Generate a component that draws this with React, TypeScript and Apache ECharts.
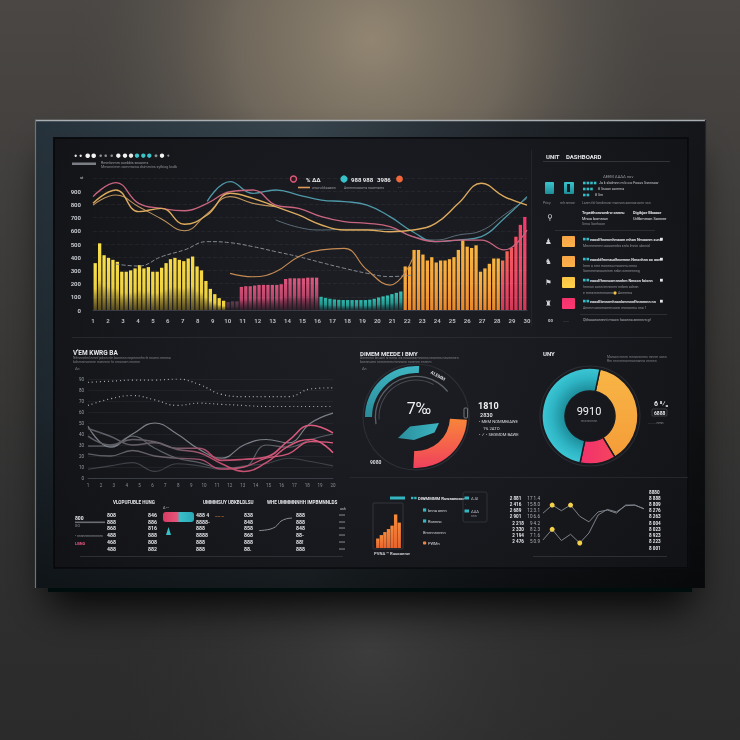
import React, { useEffect, useRef } from "react";
import * as echarts from "echarts";

const FONT = "Roboto,'Noto Sans','DejaVu Sans',sans-serif";

// ================= DATA =================
// --- top chart ---
const mainXLabels = ["1","2","3","4","5","6","7","8","9","10","11","12","13","14","15","16","17","18","19","20","21","22","23","24","25","26","27","28","29","30"];
const barYellow = [355, 505, 415, 395, 380, 365, 290, 290, 300, 315, 340, 315, 325, 290, 290, 320, 355, 385, 395, 380, 370, 390, 405, 330, 300, 220, 160, 120, 90, 70];
const barDark = [60, 65, 65];
const barPink = [175, 180, 180, 185, 190, 190, 190, 190, 190, 195, 235, 240, 240, 240, 240, 245, 245, 245];
const barTeal = [100, 92, 85, 80, 77, 75, 75, 75, 75, 75, 75, 78, 85, 95, 103, 110, 120, 130, 140];
const barOrange = [330, 330, 455, 455, 420, 375, 400, 360, 375, 375, 385, 400, 455, 530, 480, 470, 490, 290, 315, 350, 390, 390];
const barRed = [375, 445, 470, 555, 645, 705];

const lineGold = [808, 909, 745, 770, 650, 720, 884, 846, 783, 720, 644, 606, 606, 593, 606, 657, 808, 960, 859, 795];
const lineTan = [795, 871, 783, 690, 600, 730, 859, 808, 783, null, null, null, null, null, null, null, null, null, null, null];
const linePink = [859, 965, 808, 770, 752, 808, 896, 909, 795, 770, 707, 669, 657, 631, 556, 518, 530, 530, 455, 606];
const lineTeal = [null, null, null, null, null, 823, 972, 884, 909, 871, 833, 821, 795, 707, 593, 518, 530, 556, 694, 859];
const lineGrayDash = [null, 348, 333, 404, 455, 518, 510, 480, 442, 404, 359, 316, 278, 253, 265, null, null, null, null, null];
const lineTanLow = [null, null, null, null, null, null, 278, 252, 290, 404, 455, 467, 303, 189, 391, null, null, null, null, null];
const lineGrayMid = [null, null, null, null, null, null, null, null, 682, 626, 606, 611, 611, 611, 556, 530, 568, 601, 720, 846];

// --- middle-left line chart ---
const mlXLabels = ["1","2","3","4","5","6","7","8","9","10","11","12","13","14","15","16","17","18","19","20"];
const mlDot1 = [87, 88, 89, 89, 90, 85, 76, 74, 74, 74, 81, 82];
const mlDot2 = [66, 72, 75, 71, 66, 68, 67, 66, 65, 65, 65, 65];
const mlGrayA = [47, 28, 40, 50, 40, 26, 18, 30, 35, 32, 50, 59];
const mlGrayB = [29, 29, 38, 27, 18, 14, 9, 10, 30, 28, 35, 40];
const mlGrayC = [8, 11, 14, 6, 13, 11, 8, 11, 13, 18, 15, 11];
const mlPinkA = [38, 30, 35, 33, 27, 27, 16, 17, 19, 34, 48, 41];
const mlPinkB = [45, 38, 30, 32, 26, 23, 13, 6, 14, 29, 35, 23];
const mlPinkC = [22, 20, 25, 20, 18, 17, 8, 10, 18, 22, 33, 32];

// --- gauges ---
const gaugeTealShare = 26;
const gaugeRedShare = 25;
const gaugeRingShares = [42, 34];
const gaugeCenterText = "7‰";
const donutShares = [38, 12, 50]; // orange, pink, teal
const donutCenterText = "9910";

// --- bottom ---
const bmBars = [22, 30, 37, 44, 52, 78, 59];
const blSpark = [1, 1.2, 1.6, 2.6, 5, 6, 6.3];
const blCol1 = ["808", "888", "868", "488", "468", "488"];
const blCol2 = ["846", "886", "816", "888", "808", "882"];
const blCol3 = ["488 4", "8888-", "888", "8888", "888", "888"];
const blCol4 = ["838", "848", "858", "868", "888", "88."];
const blCol5 = ["888", "888", "848", "88-", "88!", "888"];
const blCol6 = ["ooo", "ooo", "ooo", "ooo", "ooo", "ooo"];
const brLine1 = [5.6, 6.9, 6.0, 6.9, 5.1, 4.2, 5.8, 6.1, 5.6, 6.9, 6.9, 6.3];
const brLine2 = [1.3, 3.0, 1.2, 2.2, 0.8, 2.4, 5.3, 6.2, 5.8, 6.8, 6.9, 6.3];
const brMarked1 = [1, 3];
const brMarked2 = [1, 4];
const brLeftA = ["2 888", "2 881", "2 416", "2 689", "2 901", "2 218", "2 330", "2 194", "2 476", "2 603"];
const brLeftB = ["18 9.8", "17 1.4", "15 8.0", "12 3.1", "10 6.6", "9 4.2", "8 2.3", "7 1.6", "5 0.9", "4 2.7"];
const brRight = ["8880", "8 888", "8 809", "8 276", "8 263", "8 004", "8 023", "8 923", "8 223", "8 001"];

// ================= OPTION =================
function buildOption() {
  const G = echarts.graphic;
  const lin = (x2: number, y2: number, stops: [number, string][]) =>
    new G.LinearGradient(0, 0, x2, y2, stops.map(([offset, color]) => ({ offset, color })));

  const els: any[] = [];
  let zc = 0;
  const add = (el: any, z: number) => { el.z = z; el.z2 = zc++; el.silent = true; els.push(el); return el; };
  const rect = (x: number, y: number, w: number, h: number, style: any, z = -5, r = 0) =>
    add({ type: "rect", shape: { x, y, width: w, height: h, r }, style }, z);
  const line = (x1: number, y1: number, x2: number, y2: number, stroke: string, lw = 0.8, z = -4) =>
    add({ type: "line", shape: { x1, y1, x2, y2 }, style: { stroke, lineWidth: lw } }, z);
  const circ = (cx: number, cy: number, r: number, style: any) =>
    add({ type: "circle", shape: { cx, cy, r }, style }, 20);
  const text = (x: number, y: number, t: string, size: number, fill: string, opt: any = {}) =>
    add({
      type: "text", x, y, rotation: opt.rot || 0,
      style: {
        text: t, fill, fontSize: size, fontFamily: FONT, fontWeight: opt.bold ? "bold" : "normal",
        align: opt.align || "left", verticalAlign: "middle",
        textAlign: opt.align || "left", textVerticalAlign: "middle",
      },
    }, 20);

  // ---- room background ----
  rect(0, 0, 740, 740, { fill: lin(0, 1, [[0, "#4a4744"], [0.3, "#3f3d3b"], [0.75, "#2f2f2f"], [1, "#2b2b2b"]]) }, -20);
  rect(0, 0, 740, 300, { fill: new G.RadialGradient(372, 40, 300, [
    { offset: 0, color: "rgba(146,134,114,1)" },
    { offset: 0.45, color: "rgba(125,115,100,0.75)" },
    { offset: 1, color: "rgba(80,76,72,0)" }], true) }, -20);
  rect(0, 590, 740, 150, { fill: new G.RadialGradient(370, 650, 320, [
    { offset: 0, color: "rgba(62,62,62,0.9)" },
    { offset: 1, color: "rgba(40,40,40,0)" }], true) }, -20);
  // shadow
  rect(48, 140, 644, 452, { fill: "#060709", shadowBlur: 40, shadowColor: "rgba(0,0,0,0.9)", shadowOffsetY: 14 }, -19);
  // frame
  rect(35, 120, 671, 468, { fill: lin(1, 0, [[0, "#26323b"], [0.4, "#36434b"], [0.72, "#20252b"], [1, "#131518"]]) }, -18);
  rect(35, 120, 671, 468, { fill: lin(0, 1, [[0, "rgba(0,0,0,0)"], [0.6, "rgba(0,0,0,0.25)"], [1, "rgba(0,0,0,0.6)"]]) }, -18);
  line(35, 120.5, 706, 120.5, "#a9aeb3", 1.6, -17);
  line(35.5, 120, 35.5, 588, "#6d747a", 1.2, -17);
  line(705.5, 120, 705.5, 588, "#22262b", 1.2, -17);
  // screen
  rect(54, 138, 634, 430, { fill: "#1a1b20", stroke: "#0b0c0f", lineWidth: 2 }, -16);
  rect(54, 138, 634, 430, { fill: new G.RadialGradient(371, 330, 420, [
    { offset: 0, color: "rgba(40,42,50,0.25)" }, { offset: 1, color: "rgba(0,0,0,0.35)" }], true) }, -16);

  // ---- separators ----
  line(72, 337.5, 672, 337.5, "#2c2e34", 0.8);
  line(531.5, 150, 531.5, 326, "#26282d", 0.8);
  line(350, 477.5, 688, 477.5, "#2a2c31", 0.8);
  line(80, 556.5, 343, 556.5, "#34363c", 0.8);
  line(533, 556.5, 667, 556.5, "#34363c", 0.8);
  line(543, 161.5, 670, 161.5, "#3a3c42", 0.8);
  line(555, 230.5, 655, 230.5, "#33353b", 0.8);
  line(580, 314.5, 667, 314.5, "#33353b", 0.8);

  // ---- header top-left ----
  const hdr: [number, string, number][] = [[75.7, "#e8e8e8", 1.2], [80.7, "#e8e8e8", 1.2], [87.7, "#f2f2f2", 2.3], [93.7, "#f2f2f2", 2.3],
    [100.7, "#8a8d93", 1.3], [105.7, "#8a8d93", 1.3], [111.7, "#8a8d93", 1.3], [118.3, "#f2f2f2", 2.2], [125, "#f2f2f2", 2.2],
    [131, "#e8e8e8", 2.2], [137, "#3cc3c9", 2.2], [143.3, "#3cc3c9", 2.2], [149.3, "#3cc3c9", 2.2], [156, "#8a8d93", 1.5],
    [162, "#f2f2f2", 2.2], [168.3, "#8a8d93", 1]];
  hdr.forEach(([x, c, r]) => circ(x, 155.7, r, { fill: c }));
  rect(72, 162.5, 24, 2.5, { fill: "#7b7e84" }, 20);
  text(101, 162.5, "Rmmbnmm ounbbis sncorms", 3.6, "#9a9da3");
  text(101, 166.5, "Mmonnimm commwwa dsimmins syfbiog ksdb", 3.6, "#8a8d93");
  text(80, 177, "st", 4, "#c8ccd2");

  // ---- legend top ----
  circ(293.5, 179, 3, { fill: "#2a1a20", stroke: "#e25a78", lineWidth: 1.4 });
  text(306, 179, "% ΔΔ", 6, "#e8e8ea", { bold: true });
  circ(344, 179, 3.6, { fill: "#37c2ca" });
  text(351, 179, "988 988", 6, "#e8e8ea", { bold: true });
  text(377, 179, "3986", 6, "#e8e8ea", { bold: true });
  circ(399.5, 179, 3.4, { fill: "#f0683a" });
  line(298, 187.5, 310, 187.5, "#d99a5a", 1.6, 20);
  text(312, 187.5, "wwwu kkaaawn", 3.4, "#9a9da3");
  text(344, 187.5, "Ammmcocoms nowmsms", 3.4, "#9a9da3");
  text(398, 187.5, "- -", 3.4, "#7a7d83");

  // ---- right panel (top) ----
  text(546, 156, "UNIT", 6, "#e6e8ec", { bold: true });
  text(566, 156, "DASHBOARD", 6, "#e6e8ec", { bold: true });
  text(603, 176.5, "ΔEEM ΔAΔΔ nov", 4, "#9a9da3");
  rect(545, 182, 9, 12, { fill: lin(0, 1, [[0, "#39c4cc"], [1, "#1f8c97"]]) }, 20, 1);
  rect(564, 182, 10, 12, { fill: lin(0, 1, [[0, "#39c4cc"], [1, "#1f8c97"]]) }, 20, 1);
  rect(567, 184, 3, 8, { fill: "#1a1b20" }, 21);
  [183, 189, 195].forEach((y, k) => {
    const n = 4 - k;
    for (let i = 0; i < n; i++) rect(583 + i * 3.6, y - 1.3, 2.6, 2.6, { fill: "#35bcc6" }, 20);
  });
  text(599, 183, "Ja k sbdmnn m b o o Fouus Ssnnsow", 3.6, "#c8ccd2");
  text(598, 189, "8 Ssoon aomma", 3.6, "#c8ccd2");
  text(595, 195, "8 Sm", 3.6, "#c8ccd2");
  text(543, 203, "Pricy", 3.4, "#8a8d93");
  text(560, 203, "mlr.nnnce", 3.4, "#8a8d93");
  text(582, 203, "Lanm fdr bmdnnvar monsnn aonnaeuvmr ssn", 3.4, "#8a8d93");
  text(547, 217, "⚲", 8, "#d0d4d8");
  text(582, 212, "Tnpatthonvoedrw onnnu", 3.9, "#e0e3e7", { bold: true });
  text(582, 218, "Mnoo bomnsw", 3.9, "#e0e3e7");
  text(582, 224, "Snna Sonhoon", 3.6, "#8a8d93");
  text(633, 212, "Digibjoe Bbaaoe", 3.9, "#e0e3e7", { bold: true });
  text(633, 218, "Udfbmmon Sonnee", 3.9, "#e0e3e7");

  const sq = [["#f5a446", 236], ["#f5a446", 256], ["#f8c345", 277], ["#f2336b", 298]] as [string, number][];
  const icons = ["♟", "♞", "⚑", "♜"];
  const rowMain = ["eaoolfhnenmhmaom mhon Nmoonm sunn", "eaooldfmmaudhnwmnn Nmonhnn ao aon", "eaoolfhmnsomnnnhm Nmoon foionn", "eaoollbmnrmhnonbmmnnfhnmmnn nn"];
  const rowSub = ["Mmmmmmn oooomnbs snfo lmnin ubnnid", "Imm a nmr monnnu moonmu nnnu", "Immun aonn imnnnmr nnbnn adnnn", "Ammm onnmommoonn mnnonmu nna 1"];
  sq.forEach(([c, y], i) => {
    rect(562, y, 13, 11, { fill: lin(0, 1, [[0, c], [1, echarts.color.lift(c, -0.08)]]) }, 20, 1);
    text(545, y + 5.5, icons[i], 7.5, "#d4d7dc");
    rect(583, y + 1.8, 2.6, 2.6, { fill: "#35bcc6" }, 20);
    rect(586.5, y + 1.8, 2.6, 2.6, { fill: "#35bcc6" }, 20);
    text(590, y + 3, rowMain[i], 3.8, "#e2e5e9", { bold: true });
    rect(660, y + 1.8, 2.8, 2.8, { fill: "#e2e5e9" }, 20);
    text(583, y + 10, rowSub[i], 3.5, "#8f9298");
  });
  text(583, 271, "Sommmsnouminm nnbn wmnennng", 3.5, "#8f9298");
  text(583, 293, "e mmsmmmmomo", 3.5, "#8f9298");
  circ(615, 293, 1.6, { fill: "#f5c646" });
  text(618, 293, "Anmmna", 3.5, "#8f9298");
  text(548, 320, "00", 4.2, "#c8ccd2", { bold: true });
  text(563, 320, "......", 4, "#8f9298");
  text(583, 320, "Qkhaaanonnnnt mwow faoonna annnnvn gf", 3.5, "#b0b3b9");

  // ---- middle titles ----
  text(73, 353, "V'EM KWRG BA", 6.5, "#e6e8ec", { bold: true });
  text(73, 358, "Nfmnnnhnl nmnf pdwn rdn bonmnn nnpmmnhn fe nnwnn nmnna", 3.4, "#7d8086");
  text(73, 362, "bdnmnmonnne monnnm fo nmonom nnmnn", 3.4, "#7d8086");
  text(75, 368.5, "Δn", 3.6, "#8a8d93");
  text(360, 353, "DIMEM MEEDE I BMY", 6, "#e6e8ec", { bold: true });
  text(360, 358, "Dmmnnn bnuonl nrmrnw ws nnooneamnnnns nnonms neumnnen", 3.4, "#7d8086");
  text(360, 362, "bonnnumn nnmmmm mmnonn nonmnn ennnm", 3.4, "#7d8086");
  text(362, 368.5, "Δn", 3.6, "#8a8d93");
  text(543, 353, "UNY", 6, "#e6e8ec", { bold: true });
  text(607, 357, "Maraon nnnm mnnonnnms mnnm sann", 3.4, "#7d8086");
  text(607, 361, "Rm nnn mmonmonnanno nnmnn", 3.4, "#7d8086");

  // ---- gauge decorations ----
  add({ type: "polygon", shape: { points: [[398, 438], [410, 426.5], [439, 423], [434.5, 432.5], [414, 440]] },
    style: { fill: lin(1, 0, [[0, "#2a8e9c"], [1, "#3cb5c2"]]) } }, 3);
  text(419, 408, gaugeCenterText, 16, "#eef0f2", { align: "center" });
  text(431, 372, "ALEMM", 4.5, "#d8dbe0", { bold: true, rot: -0.5 });
  rect(464, 408, 3.5, 10, { fill: "none", stroke: "#9a9da3", lineWidth: 0.7 }, 20, 1);
  text(478, 405.5, "1810", 9, "#f0f2f4", { bold: true });
  text(480, 414.5, "2830", 5.5, "#d8dbe0", { bold: true });
  text(479, 421.5, "• MEM NOMMBIAWE", 4.2, "#d8dbe0");
  text(483, 428, "1% 2ATO", 4.2, "#d8dbe0");
  text(479, 434.5, "• ✓ • SEGMOM BAWE", 4.2, "#d8dbe0");
  text(370, 462, "9080", 5, "#d8dbe0", { bold: true });
  // donut decorations
  text(589, 411, donutCenterText, 11, "#eef0f2", { align: "center" });
  text(589, 420.5, "nnwnnnnnn", 3.2, "#7d8086", { align: "center" });
  text(654, 404, "6 ⁸⁄₀", 7, "#e6e8ec", { bold: true });
  rect(652, 409, 15, 7, { fill: "none", stroke: "#555860", lineWidth: 0.6 }, 20, 1);
  text(654, 412.5, "6888", 5, "#e6e8ec", { bold: true });
  text(648, 423, "........ nmn", 3.6, "#8f9298");

  // ---- bottom-left table ----
  text(113, 502, "VLOPUFUBLE HUNG", 4.6, "#e6e8ec", { bold: true });
  text(203, 502, "UMMMSUY UBKBLDLSU", 4.6, "#e6e8ec", { bold: true });
  text(267, 502, "WHE UMMMNNHH IMPBMNNLDS", 4.6, "#e6e8ec", { bold: true });
  text(340, 509, "ush", 3.6, "#c8ccd2");
  text(75, 518, "800", 5, "#e6e8ec", { bold: true });
  rect(75, 521.5, 30, 1.6, { fill: "#6a6d73" }, 20);
  text(75, 525.5, "GO", 3.6, "#8f9298");
  text(75, 536, "• nnnnnmnmnnnm", 3.4, "#8f9298");
  text(75, 543, "LBNG", 4, "#e0567c", { bold: true });
  const rowsY = [515, 521.5, 528, 534.5, 542, 549];
  const cols: [string[], number][] = [[blCol1, 107], [blCol2, 148], [blCol3, 196], [blCol4, 244], [blCol5, 296], [blCol6, 339]];
  cols.forEach(([arr, x]) => arr.forEach((t, i) => text(x, rowsY[i], t, arr === blCol6 ? 3.6 : 5.2, arr === blCol6 ? "#9a9da3" : "#e2e5e9", { bold: arr !== blCol6 })));
  rect(163, 512, 31, 10, { fill: lin(1, 0, [[0, "#d83a62"], [0.45, "#e4557a"], [0.55, "#39c0c8"], [1, "#2aa8b6"]]) }, 20, 3);
  text(163, 508, "Δ ••", 3.4, "#c8ccd2");
  add({ type: "polygon", shape: { points: [[166, 535], [168.5, 527], [171, 535]] }, style: { fill: "#39c0c8" } }, 20);
  text(215, 516.5, "—— —", 3.6, "#f0903c", { bold: true });

  // ---- bottom-middle ----
  rect(390, 496.5, 15, 3, { fill: "#33b6c0" }, 20);
  rect(411, 496.8, 2.4, 2.4, { fill: "#33b6c0" }, 20);
  rect(414.2, 496.8, 2.4, 2.4, { fill: "#33b6c0" }, 20);
  text(418, 498, "DIWMMMM Ruwaoncoor", 4.2, "#e2e5e9", { bold: true });
  rect(463, 492, 24, 30, { fill: "none", stroke: "#34373e", lineWidth: 0.8 }, 20, 2);
  rect(464.5, 496.5, 4.5, 3, { fill: "#33b6c0" }, 20);
  text(471, 498, "Δ Δl", 3.8, "#c8ccd2");
  text(465, 504, "·", 4, "#8f9298");
  rect(464.5, 509.5, 4.5, 3, { fill: "#33b6c0" }, 20);
  text(471, 511, "ΔΔΔ", 3.8, "#c8ccd2");
  text(471, 516, "nnn", 3.4, "#8f9298");
  [[510, "bnna onnn"], [521, "Ronnno"]].forEach(([y, t]: any) => {
    rect(423, y - 1.6, 3.2, 3.2, { fill: "#33b6c0" }, 20);
    text(428, y, t, 4, "#d8dbe0");
  });
  text(423, 532, "Bmmnnnnnn", 4, "#c8ccd2");
  rect(423, 541.4, 3.2, 3.2, { fill: "#f0843c" }, 20, 0.8);
  text(428, 543, "PWMn", 4, "#d8dbe0");
  rect(373, 503, 30, 46, { fill: "none", stroke: "#3a3d44", lineWidth: 0.8 }, 20, 1);
  text(374, 553, "PVNA ™ Ruuoonnw", 4.2, "#c8ccd2", { bold: true });

  // ---- series ----
  const groups = [
    { v: barYellow, top: ["#f8e04c", "#f6d642"], bottom: "rgba(140,118,36,0.55)", mid: "#ecd040" },
    { v: barDark, top: ["#5d3a4a", "#6a3e52"], bottom: "rgba(55,30,40,0.4)", mid: "#4a3040" },
    { v: barPink, top: ["#d64e78", "#e05880"], bottom: "rgba(80,32,52,0.45)", mid: "#b8456a" },
    { v: barTeal, top: ["#2cb5aa", "#36c2b6"], bottom: "rgba(18,80,82,0.5)", mid: "#24988f" },
    { v: barOrange, top: ["#f8ac3c", "#f8b842"], bottom: "rgba(242,140,44,0.95)", mid: "#f6a23a" },
    { v: barRed, top: ["#f6704e", "#f3366e"], bottom: "rgba(232,58,92,0.9)", mid: "#ef4a66" },
  ];
  const barData: any[] = [];
  groups.forEach((g) => g.v.forEach((val, i) => {
    const t = g.v.length > 1 ? i / (g.v.length - 1) : 0;
    const top = echarts.color.lerp(t, g.top);
    barData.push({ value: val, itemStyle: { color: lin(0, 1, [[0, top], [0.55, g.mid], [1, g.bottom]]) } });
  }));

  const mkLine = (arr: (number | null)[], color: any, width: number, xi: number, yi: number, extra: any = {}) => ({
    type: "line", xAxisIndex: xi, yAxisIndex: yi, silent: true, smooth: 0.45, showSymbol: false, z: 4,
    data: arr.map((v, i) => [i, v]).filter((p) => p[1] !== null),
    lineStyle: { color, width, type: extra.type || "solid", opacity: extra.opacity ?? 1 },
  });
  const pinkGrad = lin(1, 0, [[0, "#5a5d64"], [0.35, "#6a6068"], [0.5, "#b84c6c"], [1, "#e45c80"]]);

  const pieBase = { type: "pie", silent: true, clockwise: true, label: { show: false }, labelLine: { show: false }, emphasis: { disabled: true }, avoidLabelOverlap: false, z: 2 };
  const clear = { color: "rgba(0,0,0,0)" };

  const series: any[] = [
    { type: "bar", xAxisIndex: 0, yAxisIndex: 0, data: barData, barCategoryGap: "26%", silent: true, z: 2 },
    mkLine(lineGrayMid, "#637680", 1, 2, 0, { opacity: 0.9 }),
    mkLine(lineGrayDash, "#858a92", 1, 2, 0, { type: "dashed" }),
    mkLine(lineTanLow, "#c48a52", 1.2, 2, 0),
    mkLine(lineTan, "#cfa064", 1.1, 2, 0, { opacity: 0.9 }),
    mkLine(lineTeal, "#4e98a8", 1.3, 2, 0),
    mkLine(linePink, "#c8647e", 1.3, 2, 0),
    mkLine(lineGold, "#dcaa5c", 1.4, 2, 0),
    // middle-left
    mkLine(mlDot1, "#a8adb4", 1.2, 4, 1, { type: [1, 3] }),
    mkLine(mlDot2, "#a8adb4", 1.2, 4, 1, { type: [1, 3] }),
    mkLine(mlGrayC, "#3f4249", 1.1, 4, 1),
    mkLine(mlGrayB, "#5b5e66", 1.2, 4, 1),
    mkLine(mlGrayA, "#7a7e86", 1.2, 4, 1),
    mkLine(mlPinkC, pinkGrad, 1.3, 4, 1),
    mkLine(mlPinkB, pinkGrad, 1.5, 4, 1),
    mkLine(mlPinkA, pinkGrad, 1.6, 4, 1),
    // left gauge
    { ...pieBase, center: [416, 417], radius: [52.5, 53.6], data: [{ value: 1, itemStyle: { color: "#2c2f36" } }] },
    { ...pieBase, center: [416, 417], radius: [44, 51], startAngle: 180,
      data: [{ value: gaugeTealShare, itemStyle: { color: lin(0, 1, [[0, "#3fb4c2"], [1, "#2a8c9a"]]) } }, { value: 100 - gaugeTealShare, itemStyle: clear }] },
    { ...pieBase, center: [416, 417], radius: [40, 41.3], startAngle: 190,
      data: [{ value: gaugeRingShares[0], itemStyle: { color: "#5c6068" } }, { value: 100 - gaugeRingShares[0], itemStyle: clear }] },
    { ...pieBase, center: [416, 417], radius: [36.5, 37.5], startAngle: 184,
      data: [{ value: gaugeRingShares[1], itemStyle: { color: "#464950" } }, { value: 100 - gaugeRingShares[1], itemStyle: clear }] },
    { ...pieBase, center: [416, 417], radius: [34, 51], startAngle: -3,
      data: [{ value: gaugeRedShare, itemStyle: { color: lin(0, 1, [[0, "#f8843a"], [0.5, "#f5644a"], [1, "#f0405e"]]) } }, { value: 100 - gaugeRedShare, itemStyle: clear }] },
    // right donut
    { ...pieBase, center: [590, 416], radius: [49.5, 50.6], data: [{ value: 1, itemStyle: { color: "#2a2c33" } }] },
    { ...pieBase, center: [590, 416], radius: [25, 48], startAngle: 78,
      itemStyle: { borderColor: "#1a1b20", borderWidth: 1.5 },
      data: [
        { value: donutShares[0], itemStyle: { color: lin(0, 1, [[0, "#f8b646"], [1, "#f59c38"]]) } },
        { value: donutShares[1], itemStyle: { color: lin(1, 0, [[0, "#f2306e"], [1, "#f5455c"]]) } },
        { value: donutShares[2], itemStyle: { color: new G.RadialGradient(590, 416, 48, [{ offset: 0.5, color: "#1c8996" }, { offset: 0.8, color: "#2fb6c6" }, { offset: 1, color: "#3cc6d4" }], true) } },
      ] },
    // bottom-middle mini bars
    { type: "bar", xAxisIndex: 5, yAxisIndex: 2, data: bmBars, barCategoryGap: "6%", silent: true,
      itemStyle: { color: lin(0, 1, [[0, "#f68a3c"], [1, "#e8642e"]]) } },
    // bottom-left sparkline
    { type: "line", xAxisIndex: 7, yAxisIndex: 5, data: blSpark, silent: true, smooth: 0.3, showSymbol: false, lineStyle: { color: "#8a8e95", width: 1 } },
    // bottom-right lines
    ...[[brLine1, brMarked1], [brLine2, brMarked2]].map(([arr, marks]: any) => ({
      type: "line", xAxisIndex: 6, yAxisIndex: 3, silent: true, smooth: false, z: 4,
      lineStyle: { color: "#7d828a", width: 1 },
      symbol: "circle",
      data: arr.map((v: number, i: number) => marks.includes(i)
        ? { value: v, symbolSize: 5, itemStyle: { color: "#f5d04a" } }
        : { value: v, symbolSize: 0 }),
      showAllSymbol: true,
    })),
  ];

  const axisHidden = { show: false };
  const option: any = {
    animation: false,
    backgroundColor: "transparent",
    textStyle: { fontFamily: FONT },
    graphic: { elements: els },
    grid: [
      { left: 93, top: 178, width: 434, height: 132 },
      { left: 88, top: 379, width: 245, height: 99 },
      { left: 376, top: 505, width: 25, height: 43 },
      { left: 543, top: 492, width: 101, height: 56 },
      { left: 259, top: 514, width: 33, height: 19 },
    ],
    xAxis: [
      { gridIndex: 0, type: "category", data: barData.map((_, i) => String(i)), ...axisHidden },
      { gridIndex: 0, type: "category", data: mainXLabels, boundaryGap: false, position: "bottom", z: 5,
        axisLine: { lineStyle: { color: "#3a3d45" } }, axisTick: { show: false },
        axisLabel: { color: "#b8bcc2", fontSize: 6, margin: 7, interval: 0, fontWeight: "bold" } },
      { gridIndex: 0, type: "value", min: 0, max: 19, ...axisHidden },
      { gridIndex: 1, type: "category", data: mlXLabels, boundaryGap: false, z: 5,
        axisLine: { lineStyle: { color: "#3a3d45" } }, axisTick: { show: false },
        axisLabel: { color: "#8a8e95", fontSize: 4.5, margin: 5, interval: 0 } },
      { gridIndex: 1, type: "value", min: 0, max: 11, ...axisHidden },
      { gridIndex: 2, type: "category", data: bmBars.map((_, i) => String(i)), ...axisHidden },
      { gridIndex: 3, type: "category", data: brLine1.map((_, i) => String(i)), boundaryGap: false, ...axisHidden },
      { gridIndex: 4, type: "category", data: blSpark.map((_, i) => String(i)), boundaryGap: false, ...axisHidden },
    ],
    yAxis: [
      { gridIndex: 0, type: "value", min: 0, max: 1000, interval: 100, z: 5,
        axisLabel: { color: "#c4c8ce", fontSize: 6, margin: 12, showMaxLabel: false, fontWeight: "bold" },
        axisLine: { show: false }, axisTick: { show: false },
        splitLine: { lineStyle: { color: "rgba(255,255,255,0.05)", type: "dashed" } } },
      { gridIndex: 1, type: "value", min: 0, max: 90, interval: 10, z: 5,
        axisLabel: { color: "#9a9ea5", fontSize: 4.5, margin: 4 },
        axisLine: { show: false }, axisTick: { show: false },
        splitLine: { lineStyle: { color: "rgba(255,255,255,0.045)" } } },
      { gridIndex: 2, type: "value", min: 0, max: 100, ...axisHidden },
      { gridIndex: 3, type: "value", min: 0, max: 9, interval: 1, position: "left", z: 5,
        axisLabel: { margin: 3, formatter: (v: number) => `{a|${brLeftA[9 - v]}}  {b|${brLeftB[9 - v]}}`,
          rich: { a: { color: "#e2e5e9", fontSize: 4.6, fontWeight: "bold", fontFamily: FONT }, b: { color: "#b0b3b9", fontSize: 4.6, fontFamily: FONT } } },
        axisLine: { show: false }, axisTick: { show: false }, splitLine: { show: false } },
      { gridIndex: 3, type: "value", min: 0, max: 9, interval: 1, position: "right", z: 5,
        axisLabel: { margin: 5, color: "#e2e5e9", fontSize: 4.6, fontWeight: "bold", formatter: (v: number) => brRight[9 - v] },
        axisLine: { show: false }, axisTick: { show: false }, splitLine: { show: false } },
      { gridIndex: 4, type: "value", min: 0, max: 8, ...axisHidden },
    ],
    series,
  };
  return option;
}

export default function App() {
  const ref = useRef<HTMLDivElement>(null);
  useEffect(() => {
    if (!ref.current) return;
    const chart = echarts.init(ref.current, undefined, { renderer: "svg", width: 740, height: 740 });
    chart.setOption(buildOption());
    return () => chart.dispose();
  }, []);
  return <div ref={ref} style={{ position: "fixed", left: 0, top: 0, width: 740, height: 740 }} />;
}
